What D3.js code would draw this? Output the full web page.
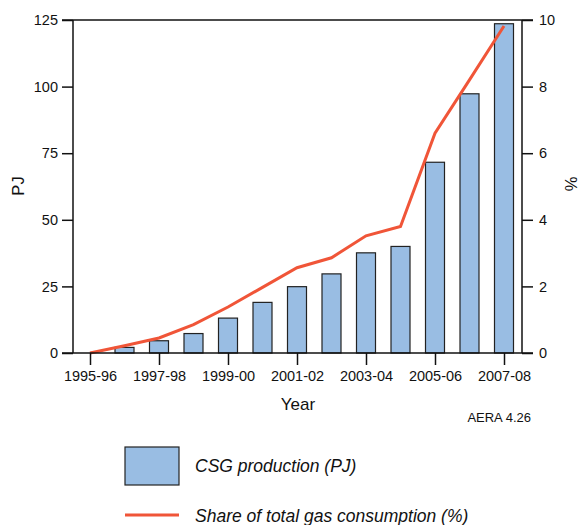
<!DOCTYPE html>
<html><head><meta charset="utf-8">
<script src="https://cdn.jsdelivr.net/npm/d3@7/dist/d3.min.js"></script>
<style>
body{margin:0;background:#fff;}
text{font-family:"Liberation Sans",Arial,Helvetica,sans-serif;fill:#111;}
</style></head>
<body><svg id="c" width="580" height="525"></svg>
<script>
const years = ["1995-96","1996-97","1997-98","1998-99","1999-00","2000-01","2001-02","2002-03","2003-04","2004-05","2005-06","2006-07","2007-08"];
const csgProduction = [0, 2.1, 4.6, 7.3, 13.1, 19.0, 24.9, 29.7, 37.6, 40.0, 71.6, 97.3, 123.6];
const shareOfGas = [0, 0.22, 0.45, 0.85, 1.38, 1.97, 2.56, 2.86, 3.52, 3.80, 6.6, 8.2, 9.82];
const xTickLabels = ["1995-96","1997-98","1999-00","2001-02","2003-04","2005-06","2007-08"];
const leftTicks = [0,25,50,75,100,125];
const rightTicks = [0,2,4,6,8,10];

const svg = d3.select("#c");
const L = 73, R = 522, T = 20, B = 353;
const x = d3.scalePoint().domain(years).range([90, 504]);
const yL = d3.scaleLinear().domain([0,125]).range([B,T]);
const yR = d3.scaleLinear().domain([0,10]).range([B,T]);
const barW = 19;

// bars
svg.append("g").selectAll("rect").data(csgProduction).join("rect")
  .attr("x",(d,i)=>x(years[i])-barW/2)
  .attr("y",d=>yL(d))
  .attr("width",barW)
  .attr("height",d=>B-yL(d))
  .attr("fill","#99bde3")
  .attr("stroke","#222")
  .attr("stroke-width",1.2);

// line
const line = d3.line().x((d,i)=>x(years[i])).y(d=>yR(d));
svg.append("path").datum(shareOfGas).attr("d",line)
  .attr("fill","none").attr("stroke","#f05538").attr("stroke-width",3);

// axes
const fs = "14.5px";
const gl = svg.append("g").attr("transform",`translate(${L},0)`)
  .call(d3.axisLeft(yL).tickValues(leftTicks).tickSize(11).tickPadding(4));
const gr = svg.append("g").attr("transform",`translate(${R},0)`)
  .call(d3.axisRight(yR).tickValues(rightTicks).tickSize(11).tickPadding(6));
const gb = svg.append("g").attr("transform",`translate(0,${B})`)
  .call(d3.axisBottom(x).tickValues(xTickLabels).tickSize(12).tickPadding(6));
[gl,gr,gb].forEach(g=>{
  g.select(".domain").remove();
  g.selectAll("line").attr("stroke","#111").attr("stroke-width",1.5);
  g.selectAll("text").style("font-size",fs).attr("fill","#111")
   .style("font-family","'Liberation Sans',Arial,sans-serif");
});
// frame lines
svg.append("line").attr("x1",L).attr("x2",L).attr("y1",T).attr("y2",B).attr("stroke","#111").attr("stroke-width",1.5);
svg.append("line").attr("x1",R).attr("x2",R).attr("y1",T).attr("y2",B).attr("stroke","#111").attr("stroke-width",1.5);
svg.append("line").attr("x1",62).attr("x2",533).attr("y1",T).attr("y2",T).attr("stroke","#111").attr("stroke-width",1.5);
svg.append("line").attr("x1",62).attr("x2",533).attr("y1",B).attr("y2",B).attr("stroke","#111").attr("stroke-width",1.5);

// axis titles
svg.append("text").attr("transform","translate(24,186) rotate(-90)").attr("text-anchor","middle")
  .style("font-size","16.5px").text("PJ");
svg.append("text").attr("transform","translate(577,184) rotate(-90)").attr("text-anchor","middle")
  .style("font-size","16.5px").text("%");
svg.append("text").attr("x",298).attr("y",410).attr("text-anchor","middle")
  .style("font-size","17px").text("Year");
svg.append("text").attr("x",531).attr("y",422).attr("text-anchor","end")
  .style("font-size","13px").text("AERA 4.26");

// legend
svg.append("rect").attr("x",125).attr("y",447).attr("width",54).attr("height",38)
  .attr("fill","#99bde3").attr("stroke","#222").attr("stroke-width",1.2);
svg.append("text").attr("x",195).attr("y",472).style("font-size","17.5px").style("font-style","italic")
  .text("CSG production (PJ)");
svg.append("line").attr("x1",125).attr("x2",179).attr("y1",515).attr("y2",515)
  .attr("stroke","#f05538").attr("stroke-width",3);
svg.append("text").attr("x",195).attr("y",522).style("font-size","17.5px").style("font-style","italic")
  .text("Share of total gas consumption (%)");
</script></body></html>
